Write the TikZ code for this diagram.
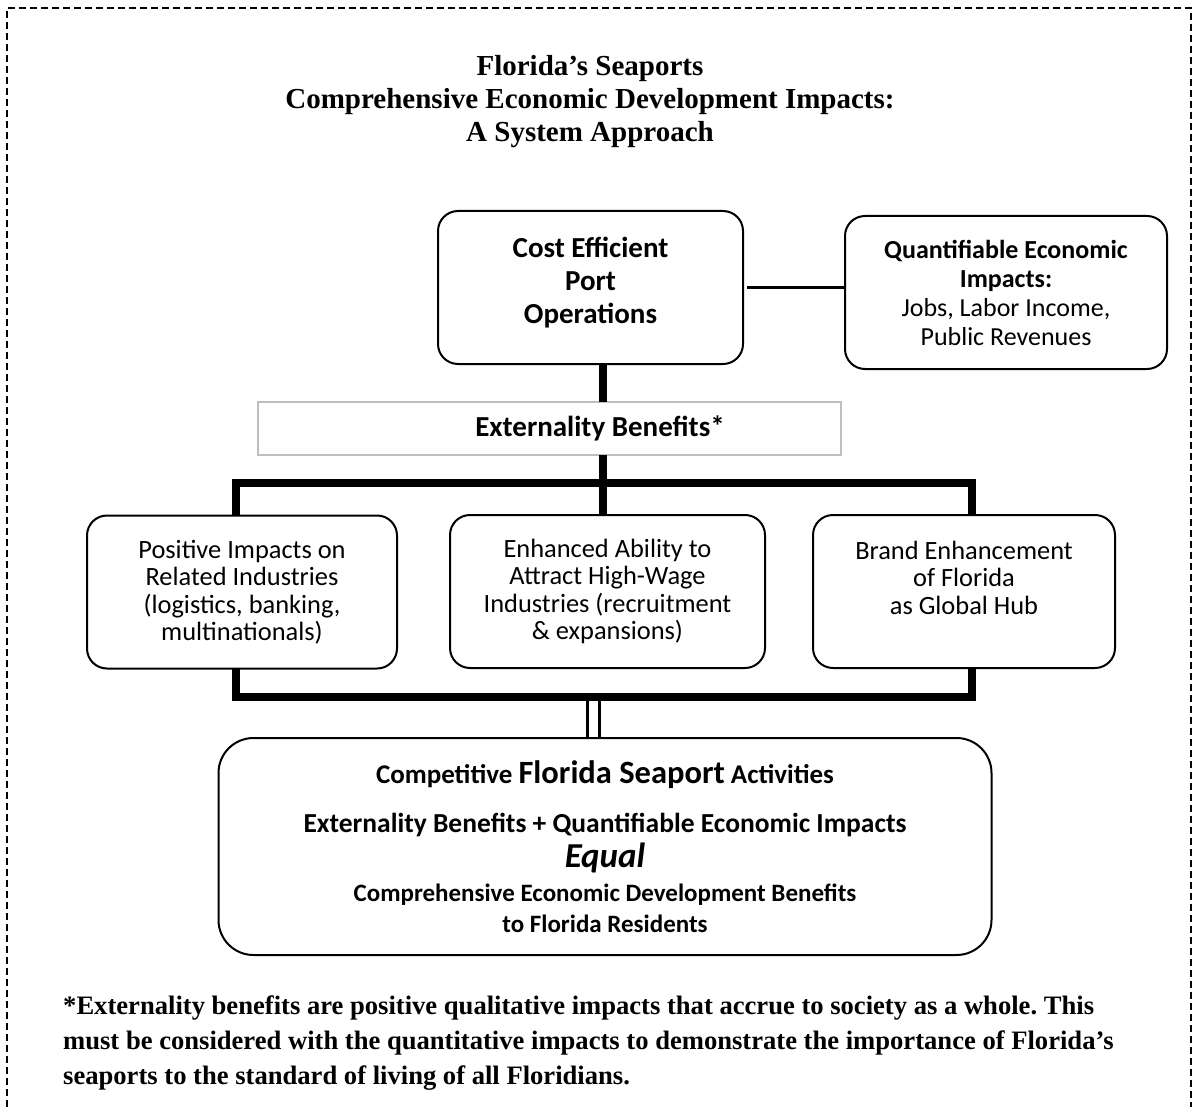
\documentclass[tikz,border=0pt]{standalone}
\usepackage{fontspec}
\setmainfont{Liberation Serif}
\newfontfamily\calibri{Carlito}
\usetikzlibrary{positioning}
\frenchspacing

\tikzset{
  rbox/.style={draw, line width=2pt, rounded corners=20pt, align=center, inner sep=0pt, outer sep=0pt,
    minimum height=153pt, font=\calibri\fontsize{26.4}{27.5}\selectfont},
  trunk/.style={line width=8pt},
  tie/.style={line width=3pt}
}

\begin{document}
\begin{tikzpicture}[x=1pt,y=-1pt]
      \useasboundingbox (0,0) rectangle (1196,1107);
      \draw[line width=1.8pt, dash pattern=on 7pt off 4pt] (7,1107) -- (7,8) -- (1191,8) -- (1191,1107);
      % Define nodes
      \node[anchor=north, align=center, inner sep=0pt, font=\bfseries\fontsize{29}{33}\selectfont] (title) at (590,55)
        {Florida’s Seaports\\Comprehensive Economic Development Impacts:\\A System Approach};
      \node[rbox, minimum width=305pt, font=\calibri\bfseries\fontsize{29}{33}\selectfont] (cost) at (590.5,287.5)
        {Cost Efficient\\Port\\Operations\\[-18pt]};
      \node[rbox, minimum width=322pt, right=102pt of cost, yshift=-5pt, font=\calibri\fontsize{26}{29}\selectfont] (quant)
        {\textbf{Quantifiable Economic}\\\textbf{Impacts:}\\Jobs, Labor Income,\\Public Revenues};
      \node[draw=black!25, line width=2pt, minimum width=583pt, minimum height=53pt, inner sep=0pt, outer sep=0pt,
        font=\calibri\bfseries\fontsize{29}{33}\selectfont] (ext) at (549.5,428.5) {\hspace*{101pt}Externality Benefits*};
      \node[rbox, minimum width=310pt] (rel) at (242,592) {Positive Impacts on\\Related Industries\\(logistics, banking,\\multinationals)};
      \node[rbox, minimum width=315pt] (att) at (607.5,591.5) {Enhanced Ability to\\Attract High-Wage\\Industries (recruitment\\\& expansions)};
      \node[rbox, minimum width=302pt] (brand) at (964,591.5) {Brand Enhancement\\of Florida\\as Global Hub\\~};
      \node[rbox, minimum width=773pt, minimum height=217pt, rounded corners=35pt,
        font=\calibri\bfseries\fontsize{25}{31}\selectfont] (comp) at (605,846.5)
        {{\fontsize{27}{31}\selectfont Competitive {\fontsize{32.5}{31}\selectfont Florida Seaport} Activities}\\[18pt]
         {\fontsize{27.5}{31}\selectfont Externality Benefits + Quantifiable Economic Impacts}\\[4pt]
         {\itshape\fontsize{35}{31}\selectfont Equal}\\[3pt]
         Comprehensive Economic Development Benefits\\
         to Florida Residents};
      \node[anchor=north west, align=left, inner sep=0pt, font=\bfseries\fontsize{26.6}{35}\selectfont] (note) at (63,996)
        {*Externality benefits are positive qualitative impacts that accrue to society as a whole. This\\
         must be considered with the quantitative impacts to demonstrate the importance of Florida’s\\
         seaports to the standard of living of all Floridians.};
      \coordinate (hub) at (603,483);
      \coordinate (busL) at (236,483);
      \coordinate (busR) at (972,483);
      \coordinate (lowL) at (236,697);
      \coordinate (lowR) at (972,697);
      % Connect nodes
      \draw[tie] ([xshift=4pt]cost.east) -- (quant.west |- cost.east);
      \draw[trunk] (cost.south -| hub) -- (ext.north -| hub);
      \draw[trunk] (ext.south -| hub) -- (att.north -| hub);
      \draw[trunk] (rel.north -| busL) -- (busL) -- (busR) -- (brand.north -| busR);
      \draw[trunk] (rel.south -| lowL) -- (lowL) -- (lowR) -- (brand.south -| lowR);
      \draw[tie] ([xshift=-18pt]comp.north) -- ([xshift=-18pt]comp.north |- lowL);
      \draw[tie] ([xshift=-6pt]comp.north) -- ([xshift=-6pt]comp.north |- lowL);
    \end{tikzpicture}
\end{document}
